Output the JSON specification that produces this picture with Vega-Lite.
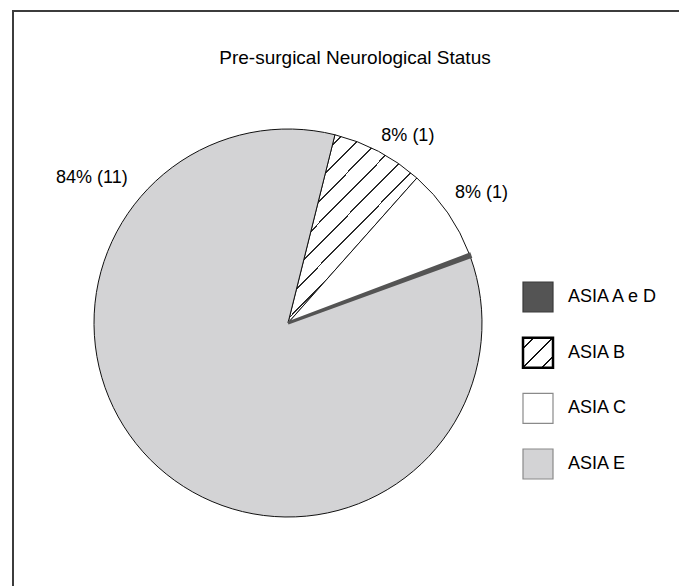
{
  "$schema": "https://vega.github.io/schema/vega-lite/v6.json",
  "autosize": "none",
  "width": 668,
  "height": 577,
  "padding": {"left": 13, "top": 11, "right": -2, "bottom": -2},
  "background": "white",
  "title": {
    "text": "Pre-surgical Neurological Status",
    "fontSize": 19,
    "font": "Liberation Sans",
    "fontWeight": "normal",
    "color": "#000000",
    "anchor": "middle",
    "frame": "group",
    "offset": -72,
    "dx": 8,
    "baseline": "alphabetic"
  },
  "config": {
    "view": {"stroke": "#3c3c3c", "strokeWidth": 2},
    "font": "Liberation Sans"
  },
  "data": {
    "values": [
      {"cat": "ASIA B", "n": 1, "label": "8% (1)"},
      {"cat": "ASIA C", "n": 1, "label": "8% (1)"},
      {"cat": "ASIA E", "n": 11, "label": "84% (11)"},
      {"cat": "ASIA A e D", "n": 0.03, "label": ""}
    ]
  },
  "layer": [
    {
      "transform": [
        {"calculate": "indexof(['ASIA B','ASIA C','ASIA A e D','ASIA E'], datum.cat)", "as": "ord"}
      ],
      "mark": {"type": "arc", "radius": 194},
      "encoding": {
        "x": {"value": 275},
        "y": {"value": 312},
        "theta": {
          "field": "n",
          "type": "quantitative",
          "stack": true,
          "scale": {"domain": [0, 13.03], "range": [0.24435, 6.52753], "zero": true, "nice": false}
        },
        "order": {"field": "ord", "type": "quantitative"},
        "fill": {
          "condition": [
            {
              "test": "datum.cat === 'ASIA B'",
              "value": {
                "gradient": "linear", "x1": 0, "y1": 0, "x2": 0.696, "y2": 1,
                "stops": [
                  {"offset": 0, "color": "#ffffff"},
                  {"offset": 0.040, "color": "#ffffff"}, {"offset": 0.040, "color": "#2a2a2a"}, {"offset": 0.047, "color": "#2a2a2a"}, {"offset": 0.047, "color": "#ffffff"},
                  {"offset": 0.117, "color": "#ffffff"}, {"offset": 0.117, "color": "#2a2a2a"}, {"offset": 0.124, "color": "#2a2a2a"}, {"offset": 0.124, "color": "#ffffff"},
                  {"offset": 0.194, "color": "#ffffff"}, {"offset": 0.194, "color": "#2a2a2a"}, {"offset": 0.201, "color": "#2a2a2a"}, {"offset": 0.201, "color": "#ffffff"},
                  {"offset": 0.271, "color": "#ffffff"}, {"offset": 0.271, "color": "#2a2a2a"}, {"offset": 0.278, "color": "#2a2a2a"}, {"offset": 0.278, "color": "#ffffff"},
                  {"offset": 0.348, "color": "#ffffff"}, {"offset": 0.348, "color": "#2a2a2a"}, {"offset": 0.355, "color": "#2a2a2a"}, {"offset": 0.355, "color": "#ffffff"},
                  {"offset": 0.425, "color": "#ffffff"}, {"offset": 0.425, "color": "#2a2a2a"}, {"offset": 0.432, "color": "#2a2a2a"}, {"offset": 0.432, "color": "#ffffff"},
                  {"offset": 0.502, "color": "#ffffff"}, {"offset": 0.502, "color": "#2a2a2a"}, {"offset": 0.509, "color": "#2a2a2a"}, {"offset": 0.509, "color": "#ffffff"},
                  {"offset": 0.579, "color": "#ffffff"}, {"offset": 0.579, "color": "#2a2a2a"}, {"offset": 0.586, "color": "#2a2a2a"}, {"offset": 0.586, "color": "#ffffff"},
                  {"offset": 0.656, "color": "#ffffff"}, {"offset": 0.656, "color": "#2a2a2a"}, {"offset": 0.663, "color": "#2a2a2a"}, {"offset": 0.663, "color": "#ffffff"},
                  {"offset": 0.733, "color": "#ffffff"}, {"offset": 0.733, "color": "#2a2a2a"}, {"offset": 0.740, "color": "#2a2a2a"}, {"offset": 0.740, "color": "#ffffff"},
                  {"offset": 0.810, "color": "#ffffff"}, {"offset": 0.810, "color": "#2a2a2a"}, {"offset": 0.817, "color": "#2a2a2a"}, {"offset": 0.817, "color": "#ffffff"},
                  {"offset": 0.887, "color": "#ffffff"}, {"offset": 0.887, "color": "#2a2a2a"}, {"offset": 0.894, "color": "#2a2a2a"}, {"offset": 0.894, "color": "#ffffff"},
                  {"offset": 0.964, "color": "#ffffff"}, {"offset": 0.964, "color": "#2a2a2a"}, {"offset": 0.971, "color": "#2a2a2a"}, {"offset": 0.971, "color": "#ffffff"},
                  {"offset": 1, "color": "#ffffff"}
                ]
              }
            },
            {"test": "datum.cat === 'ASIA A e D'", "value": "#545454"},
            {"test": "datum.cat === 'ASIA E'", "value": "#d3d3d5"}
          ],
          "value": "#ffffff"
        },
        "stroke": {
          "condition": {"test": "datum.cat === 'ASIA A e D'", "value": "#545454"},
          "value": "#111111"
        },
        "strokeWidth": {
          "condition": {"test": "datum.cat === 'ASIA A e D'", "value": 3},
          "value": 1
        }
      }
    },
    {
      "mark": {"type": "point", "shape": "square", "size": 900, "filled": true, "opacity": 1},
      "encoding": {
        "x": {"value": 525},
        "y": {
          "field": "cat",
          "type": "nominal",
          "scale": {"type": "point", "domain": ["ASIA A e D", "ASIA B", "ASIA C", "ASIA E"], "range": [286, 453], "padding": 0},
          "axis": null
        },
        "fill": {
          "condition": [
            {
              "test": "datum.cat === 'ASIA B'",
              "value": {
                "gradient": "linear", "x1": 0, "y1": 0, "x2": 1, "y2": 1,
                "stops": [
                  {"offset": 0, "color": "#ffffff"}, {"offset": 0.17, "color": "#ffffff"}, {"offset": 0.17, "color": "#111111"}, {"offset": 0.2, "color": "#111111"}, {"offset": 0.2, "color": "#ffffff"},
                  {"offset": 0.485, "color": "#ffffff"}, {"offset": 0.485, "color": "#111111"}, {"offset": 0.515, "color": "#111111"}, {"offset": 0.515, "color": "#ffffff"},
                  {"offset": 0.8, "color": "#ffffff"}, {"offset": 0.8, "color": "#111111"}, {"offset": 0.83, "color": "#111111"}, {"offset": 0.83, "color": "#ffffff"},
                  {"offset": 1, "color": "#ffffff"}
                ]
              }
            },
            {"test": "datum.cat === 'ASIA A e D'", "value": "#545454"},
            {"test": "datum.cat === 'ASIA E'", "value": "#d3d3d5"}
          ],
          "value": "#ffffff"
        },
        "stroke": {
          "condition": [
            {"test": "datum.cat === 'ASIA B'", "value": "#000000"},
            {"test": "datum.cat === 'ASIA A e D'", "value": "#3a3a3a"}
          ],
          "value": "#8a8a8a"
        },
        "strokeWidth": {
          "condition": {"test": "datum.cat === 'ASIA B'", "value": 2.5},
          "value": 1.2
        }
      }
    },
    {
      "mark": {"type": "text", "fontSize": 18, "font": "Liberation Sans", "color": "#000000", "align": "left", "baseline": "middle"},
      "encoding": {
        "x": {"value": 555},
        "y": {
          "field": "cat",
          "type": "nominal",
          "scale": {"type": "point", "domain": ["ASIA A e D", "ASIA B", "ASIA C", "ASIA E"], "range": [286, 453], "padding": 0},
          "axis": null
        },
        "text": {"field": "cat"}
      }
    },
    {
      "transform": [{"filter": "datum.cat === 'ASIA B'"}],
      "mark": {"type": "text", "radius": 222, "fontSize": 18, "font": "Liberation Sans", "color": "#000000", "align": "center", "baseline": "middle"},
      "encoding": {
        "x": {"value": 275},
        "y": {"value": 312},
        "theta": {"datum": 0.676, "type": "quantitative", "scale": {"domain": [0, 13.03], "range": [0.24435, 6.52753], "zero": true, "nice": false}},
        "text": {"field": "label"}
      }
    },
    {
      "transform": [{"filter": "datum.cat === 'ASIA C'"}],
      "mark": {"type": "text", "radius": 233, "fontSize": 18, "font": "Liberation Sans", "color": "#000000", "align": "center", "baseline": "middle"},
      "encoding": {
        "x": {"value": 275},
        "y": {"value": 312},
        "theta": {"datum": 1.527, "type": "quantitative", "scale": {"domain": [0, 13.03], "range": [0.24435, 6.52753], "zero": true, "nice": false}},
        "text": {"field": "label"}
      }
    },
    {
      "transform": [{"filter": "datum.cat === 'ASIA E'"}],
      "mark": {"type": "text", "radius": 244, "fontSize": 18, "font": "Liberation Sans", "color": "#000000", "align": "center", "baseline": "middle"},
      "encoding": {
        "x": {"value": 275},
        "y": {"value": 312},
        "theta": {"datum": 10.587, "type": "quantitative", "scale": {"domain": [0, 13.03], "range": [0.24435, 6.52753], "zero": true, "nice": false}},
        "text": {"field": "label"}
      }
    }
  ]
}
